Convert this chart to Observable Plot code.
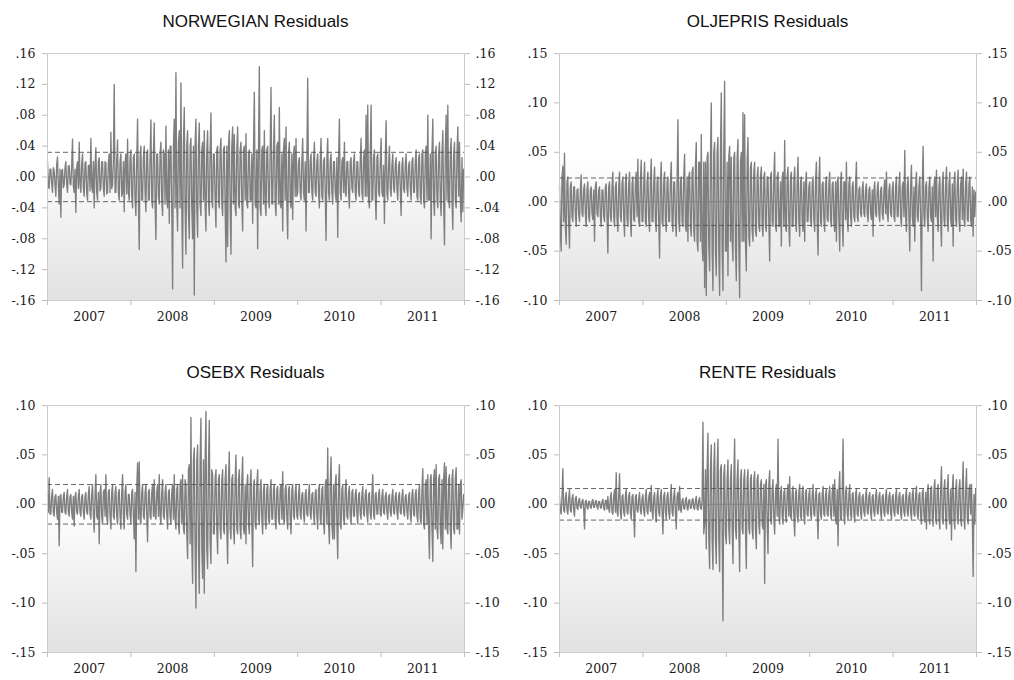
<!DOCTYPE html>
<html><head><meta charset="utf-8">
<script src="https://cdn.jsdelivr.net/npm/d3@7"></script>
<script src="https://cdn.jsdelivr.net/npm/@observablehq/plot@0.6"></script>
<style>
body{margin:0;background:#fff;}
#wrap{position:relative;width:1014px;height:680px;overflow:hidden;background:#fff;}
.title{position:absolute;font-family:"Liberation Sans",Arial,sans-serif;font-size:17px;line-height:17px;color:#111;text-align:center;white-space:nowrap;width:417px;}
.panel{position:absolute;}
</style></head><body><div id="wrap"></div>
<script>
const startYear = 2007;
const pointsPerYear = 100;
const yearTicks = [2007, 2008, 2009, 2010, 2011, 2012];
const yearLabels = ["2007", "2008", "2009", "2010", "2011"];

const norwegian = [
 // 2007
 .02,-.012,-.015,.01,.01,-.008,-.02,.012,.008,-.01,-.025,.015,.026,-.012,-.035,.01,-.052,.008,.01,-.014,
 -.01,.012,.02,-.01,-.02,.014,.015,-.009,-.01,.015,.049,-.012,-.02,.01,-.046,.013,.02,-.015,.045,-.01,
 -.02,.016,.03,-.015,-.025,.018,.02,-.02,-.03,.015,.015,-.018,.05,-.012,-.02,.02,-.04,.016,.038,-.02,
 -.03,.02,.025,-.018,-.015,.02,.02,-.015,-.025,.02,.018,-.022,-.02,.018,.03,-.02,.058,-.015,-.01,.02,
 .12,-.02,-.02,.022,.048,-.02,-.03,.02,.03,-.025,-.02,.02,-.045,.018,.03,-.022,.049,-.02,-.03,.025,
 // 2008
 .035,-.025,-.04,.025,.03,-.03,-.05,.02,.075,-.03,-.094,.025,.04,-.03,-.03,.025,.04,-.02,-.045,.03,
 .035,-.03,-.03,.025,.074,-.03,-.04,.03,.07,-.035,-.081,.03,.03,-.025,-.035,.03,.045,-.03,-.05,.035,
 .03,-.035,.066,-.03,-.04,.035,-.06,.04,.04,-.04,-.145,.04,.075,-.04,.135,-.035,-.07,.045,.06,-.04,
 .122,-.04,-.118,.045,.09,-.04,-.1,.04,.06,-.045,-.08,.04,.05,-.04,-.08,.04,-.153,.045,.075,-.04,
 -.078,.04,.07,-.035,-.05,.035,.045,-.03,.06,-.04,-.07,.035,.06,-.03,-.05,.035,.083,-.03,-.04,.03,
 // 2009
 .03,-.03,-.065,.035,.04,-.03,-.04,.035,.05,-.035,-.05,.035,.04,-.04,-.11,.04,-.09,.04,.06,-.04,
 -.1,.04,.065,-.035,.055,-.04,-.05,.035,.065,-.035,-.04,.035,.045,-.035,-.07,.035,.04,-.03,.056,-.035,
 -.04,.03,.035,-.03,-.03,.03,-.06,.035,.11,-.035,-.04,.035,-.093,.04,.143,-.04,-.05,.035,.04,-.035,
 .06,-.035,-.05,.035,.04,-.03,-.04,.035,.116,-.035,-.035,.035,.08,-.035,-.05,.04,.045,-.035,.09,-.035,
 -.04,.03,-.07,.035,.05,-.03,.065,-.035,-.08,.03,.045,-.03,-.04,.03,-.055,.03,.04,-.025,.05,-.025,
 // 2010
 -.02,.02,.025,-.02,-.03,.02,.05,-.02,-.03,.02,-.07,.025,.128,-.02,-.02,.02,.03,-.02,-.03,.02,
 .045,-.02,-.025,.02,.03,-.02,-.04,.02,.05,-.025,-.03,.02,.025,-.02,-.082,.025,.05,-.02,-.03,.02,
 .03,-.02,-.035,.02,.02,-.02,-.03,.025,-.078,.025,.075,-.02,-.03,.02,.025,-.02,.045,-.02,-.025,.02,
 .02,-.02,-.04,.02,.025,-.015,-.02,.02,.03,-.02,-.03,.02,.02,-.02,-.025,.02,.05,-.02,-.03,.025,
 .035,-.025,.08,-.025,.093,-.03,-.04,.03,.093,-.03,-.03,.025,.035,-.025,-.055,.025,.03,-.02,-.025,.02,
 // 2011
 .05,-.02,-.025,.015,-.06,.02,.073,-.02,-.03,.015,.04,-.015,-.025,.015,.03,-.015,-.02,.015,.025,-.015,
 -.03,.015,.02,-.015,-.05,.015,.025,-.015,-.02,.015,.03,-.015,-.025,.015,.02,-.015,-.03,.02,.025,-.02,
 -.02,.02,.035,-.025,-.03,.025,.03,-.025,-.035,.03,.035,-.03,-.04,.03,.04,-.03,.08,-.03,-.03,.03,
 -.08,.03,.075,-.03,-.05,.03,.04,-.03,-.04,.03,.045,-.03,-.05,.03,.06,-.035,-.088,.035,.08,-.03,
 .093,-.03,-.04,.03,.05,-.03,-.068,.03,.045,-.03,-.04,.03,.065,-.025,.045,-.03,-.058,.025,-.045,.01
];

const oljepris = [
 // 2007
 .016,-.03,-.05,.025,.036,-.02,.049,-.025,-.043,.02,.025,-.02,-.047,.015,.02,-.015,-.02,.015,.015,-.012,
 -.025,.012,.013,-.012,-.02,.012,.027,-.012,-.015,.012,.018,-.012,-.025,.012,.02,-.015,-.02,.012,.015,-.012,
 -.018,.012,-.04,.015,.02,-.012,-.015,.012,.015,-.015,-.025,.012,.012,-.015,-.02,.015,.018,-.015,-.052,.015,
 .02,-.015,-.02,.015,.03,-.015,-.025,.015,.02,-.018,-.03,.015,.03,-.015,-.02,.018,.025,-.015,-.035,.018,
 .028,-.018,-.025,.018,.03,-.018,-.035,.018,.025,-.018,-.02,.018,.03,-.015,.043,-.02,-.025,.02,.042,-.02,
 // 2008
 -.02,.018,.04,-.02,-.025,.02,.03,-.018,-.03,.02,.043,-.02,-.02,.02,.035,-.02,-.03,.02,.025,-.02,
 -.057,.02,.04,-.02,-.025,.02,.03,-.02,-.03,.02,.025,-.02,-.02,.02,.04,-.02,-.03,.02,.02,-.02,
 -.035,.02,.083,-.02,-.03,.02,.025,-.02,-.025,.025,.048,-.025,-.03,.025,-.04,.025,.03,-.025,-.035,.03,
 .035,-.03,-.04,.035,.06,-.04,-.05,.04,.04,-.04,.068,-.045,-.06,.04,-.087,.04,-.095,.045,.05,-.045,
 -.07,.045,.1,-.05,-.09,.05,.06,-.05,-.075,.05,.065,-.05,-.095,.05,.11,-.05,-.09,.055,.122,-.05,
 // 2009
 -.05,.04,-.075,.045,.056,-.04,.045,-.04,-.06,.045,.05,-.045,-.08,.045,.063,-.045,-.097,.04,.05,-.04,
 .09,-.04,.088,-.04,-.07,.04,.065,-.035,-.045,.035,.04,-.03,-.04,.03,.04,-.03,-.035,.025,.035,-.025,
 -.03,.025,.035,-.025,-.035,.025,.03,-.025,-.03,.025,.025,-.02,-.06,.025,.03,-.02,-.025,.025,.05,-.025,
 -.03,.025,.03,-.025,-.025,.02,-.045,.025,.03,-.025,.062,-.025,-.03,.025,.035,-.025,-.045,.025,.03,-.025,
 -.025,.02,.035,-.02,-.03,.02,.045,-.02,-.035,.02,.025,-.02,-.03,.02,-.04,.02,.03,-.02,-.02,.015,
 // 2010
 .02,-.018,-.025,.018,.025,-.018,-.03,.02,.04,-.02,-.054,.02,.045,-.02,-.025,.018,.02,-.018,-.03,.018,
 .025,-.018,-.02,.018,.03,-.018,-.025,.018,.02,-.02,-.03,.02,-.04,.02,.025,-.02,-.05,.02,.03,-.02,
 -.045,.02,.02,-.018,.04,-.018,-.03,.018,.025,-.015,-.025,.015,.02,-.015,-.02,.015,.04,-.015,-.02,.012,
 .015,-.012,-.015,.012,.02,-.012,-.015,.012,.018,-.012,-.02,.012,.015,-.012,-.018,.012,-.035,.012,.02,-.012,
 -.015,.012,.02,-.012,-.02,.012,.015,-.012,-.018,.012,.022,-.012,.03,-.012,-.02,.012,.018,-.012,-.015,.012,
 // 2011
 .02,-.015,-.02,.015,.025,-.015,-.015,.015,.03,-.015,-.025,.015,.02,-.015,.052,-.015,-.03,.015,.025,-.015,
 -.05,.015,.037,-.015,-.025,.015,-.04,.015,.03,-.015,-.02,.015,.025,-.015,-.09,.015,.056,-.015,-.025,.015,
 .02,-.015,-.03,.015,.025,-.015,-.02,.015,-.06,.015,.025,-.015,.032,-.015,-.03,.015,.025,-.018,-.045,.018,
 .03,-.018,-.025,.018,.035,-.018,-.03,.018,.03,-.018,-.025,.018,-.045,.018,.03,-.018,-.025,.018,.032,-.018,
 -.03,.018,.025,-.018,.033,-.018,-.025,.018,.03,-.018,-.02,.018,.025,-.018,-.025,.015,-.035,.012,-.015,.01
];

const osebx = [
 // 2007
 .01,-.008,.027,-.01,-.01,.008,.015,-.008,-.012,.008,.01,-.008,-.015,.008,-.042,.008,.01,-.008,-.008,.008,
 .012,-.008,-.01,.008,.015,-.008,-.012,.008,.01,-.008,-.015,.008,-.022,.008,.012,-.008,-.01,.008,.015,-.008,
 -.012,.008,.01,-.008,-.015,.008,.012,-.008,-.01,.01,.018,-.01,-.015,.01,.02,-.01,-.028,.01,.03,-.012,
 -.015,.012,-.04,.012,.02,-.012,-.02,.012,.015,-.012,.03,-.012,-.02,.012,.015,-.012,-.025,.012,.02,-.012,
 -.015,.012,.018,-.012,-.02,.012,.015,-.012,-.025,.012,.03,-.012,-.025,.012,.02,-.01,-.015,.01,.01,-.01,
 // 2008
 -.02,.012,.015,-.012,-.035,.012,-.068,.015,.042,-.015,.043,-.015,-.02,.012,.02,-.012,-.015,.012,.02,-.012,
 -.038,.012,.015,-.012,-.015,.012,.02,-.012,.025,-.012,-.015,.012,.02,-.012,.03,-.012,-.02,.012,.025,-.012,
 -.015,.012,.02,-.012,-.025,.012,.015,-.012,-.02,.012,.02,-.015,.03,-.015,-.025,.015,.02,-.02,-.03,.02,
 .025,-.02,.03,-.025,-.03,.025,.02,-.03,-.055,.035,.04,-.04,.088,-.04,-.08,.045,.057,-.045,-.105,.045,
 .06,-.045,-.09,.045,.087,-.045,-.075,.045,-.09,.045,.094,-.045,-.065,.04,.085,-.04,-.06,.035,.03,-.03,
 // 2009
 -.03,.025,.035,-.025,-.05,.025,.03,-.025,-.035,.025,.035,-.025,-.03,.025,.04,-.025,-.06,.025,.053,-.025,
 -.035,.025,.03,-.025,-.04,.025,.05,-.025,-.03,.025,.035,-.025,-.035,.025,.048,-.025,-.03,.02,-.04,.02,
 .03,-.02,-.03,.02,.035,-.02,-.063,.02,.025,-.02,-.025,.02,.035,-.015,-.02,.015,.025,-.015,-.03,.015,
 .02,-.015,-.025,.015,.02,-.015,-.02,.015,.025,-.015,-.015,.015,.02,-.015,-.025,.015,.018,-.015,-.02,.015,
 .02,-.015,.033,-.015,-.02,.015,.02,-.015,-.025,.015,.018,-.015,-.03,.015,.02,-.012,-.015,.012,.02,-.012,
 // 2010
 -.015,.01,.02,-.01,-.015,.01,.012,-.01,-.018,.01,.015,-.01,-.012,.01,.02,-.01,-.015,.01,.012,-.01,
 -.02,.012,.015,-.012,-.025,.015,.02,-.015,-.02,.015,.018,-.018,-.03,.02,.025,-.02,.057,-.02,-.04,.02,
 .048,-.02,-.035,.02,-.035,.02,.03,-.02,-.055,.02,.04,-.02,-.025,.015,.02,-.015,-.02,.015,.025,-.012,
 -.015,.012,.018,-.012,-.02,.012,.015,-.012,-.012,.01,.015,-.01,-.02,.01,.012,-.01,-.015,.01,.018,-.01,
 -.012,.01,.015,-.01,-.018,.01,.012,-.01,-.015,.01,.03,-.01,-.015,.01,.012,-.01,-.01,.01,.015,-.01,
 // 2011
 -.012,.008,.015,-.008,-.01,.008,.012,-.008,-.015,.008,.01,-.008,-.012,.008,.015,-.008,-.01,.008,.012,-.008,
 -.015,.008,.012,-.008,-.01,.008,.015,-.008,-.012,.008,.01,-.008,-.015,.008,.012,-.01,-.018,.01,.015,-.01,
 -.012,.01,.015,-.012,-.018,.012,.02,-.015,-.02,.015,.036,-.02,-.025,.02,.025,-.02,.03,-.025,-.055,.025,
 .03,-.025,-.058,.025,.035,-.025,.04,-.025,-.035,.025,.03,-.025,-.04,.025,-.045,.025,.042,-.025,.038,-.025,
 -.03,.025,.03,-.025,-.045,.025,.035,-.025,-.03,.025,.037,-.025,-.025,.02,-.03,.02,.025,-.015,-.005,.01
];

const rente = [
 // 2007
 .008,-.006,-.01,.006,.036,-.006,-.008,.006,.012,-.006,-.01,.006,.015,-.006,-.008,.006,.01,-.006,-.012,.006,
 .008,-.004,-.005,.004,.006,-.003,-.004,.003,.005,-.004,-.025,.003,.004,-.003,-.005,.003,.003,-.003,-.004,.003,
 .005,-.003,-.003,.003,.004,-.003,-.005,.003,.003,-.003,-.004,.003,.005,-.004,-.006,.004,.004,-.005,.008,-.005,
 -.008,.006,.012,-.008,-.01,.008,.015,-.008,.032,-.008,-.012,.008,.031,-.008,-.015,.008,.01,-.008,-.012,.008,
 .015,-.008,-.01,.008,.012,-.008,-.015,.008,.01,-.008,-.033,.008,.01,-.006,-.008,.006,.012,-.006,-.01,.006,
 // 2008
 .01,-.007,-.012,.007,.015,-.007,-.01,.007,.012,-.007,.019,-.007,-.015,.007,.012,-.008,-.018,.008,.015,-.008,
 -.012,.008,.015,-.008,-.03,.008,.012,-.008,-.015,.008,.012,-.008,-.015,.008,.02,-.008,-.012,.008,.015,-.008,
 -.025,.008,.012,-.006,.018,-.005,-.008,.004,.006,-.004,-.005,.004,.007,-.004,-.006,.004,.005,-.004,-.004,.004,
 .006,-.004,-.005,.004,.008,-.004,-.006,.004,.007,-.004,-.005,.004,.083,-.03,-.02,.035,-.045,.035,.072,-.035,
 -.065,.035,.06,-.035,-.066,.035,.062,-.035,-.06,.035,.066,-.035,-.068,.035,.04,-.03,-.118,.03,.04,-.03,
 // 2009
 -.04,.025,.045,-.025,-.04,.025,.04,-.025,-.06,.025,.066,-.025,-.035,.025,.045,-.025,-.068,.025,.035,-.025,
 -.03,.025,.035,-.025,-.065,.025,.035,-.025,-.03,.025,.03,-.025,-.035,.025,.033,-.025,-.045,.025,.03,-.02,
 -.03,.02,.025,-.02,-.025,.02,-.08,.02,.025,-.02,-.05,.02,.034,-.015,-.02,.015,.025,-.015,-.03,.012,
 .02,-.012,.066,-.012,-.02,.012,.018,-.012,-.02,.012,.015,-.012,-.018,.012,.02,-.012,.028,-.012,-.015,.012,
 .018,-.012,-.032,.012,.015,-.012,-.018,.012,.02,-.012,-.015,.012,.018,-.012,-.02,.012,.015,-.01,-.012,.01,
 // 2010
 .015,-.01,-.015,.01,.02,-.01,-.012,.01,.015,-.01,-.035,.01,.012,-.01,-.015,.01,.018,-.01,-.012,.01,
 .015,-.01,-.012,.01,.018,-.01,-.015,.012,.02,-.012,.025,-.015,-.02,.015,-.042,.015,.033,-.015,-.015,.012,
 .066,-.012,-.02,.012,.018,-.01,-.015,.01,.02,-.01,-.015,.01,.012,-.01,-.018,.01,.015,-.01,-.012,.008,
 .012,-.008,-.015,.008,.01,-.008,-.012,.008,.015,-.008,-.01,.008,.012,-.008,-.015,.008,.01,-.008,-.012,.008,
 .015,-.008,-.01,.008,.012,-.008,-.015,.008,.01,-.008,-.012,.008,.015,-.008,-.01,.008,.012,-.008,-.015,.008,
 // 2011
 .01,-.008,-.012,.008,.015,-.008,-.01,.008,.012,-.008,-.015,.008,.01,-.008,-.012,.008,.015,-.008,-.012,.008,
 .012,-.008,-.015,.01,.015,-.01,-.012,.01,.018,-.01,-.015,.01,.012,-.012,-.02,.012,.015,-.012,-.018,.012,
 -.025,.012,.02,-.015,-.02,.015,.018,-.015,-.022,.015,.025,-.015,-.02,.015,.02,-.015,-.025,.015,.038,-.015,
 -.02,.015,.025,-.015,-.025,.015,.03,-.015,-.02,.015,-.036,.015,.03,-.015,-.025,.015,.025,-.015,-.02,.015,
 .025,-.015,-.022,.015,.043,-.015,-.025,.015,.036,-.015,-.02,.015,.02,-.01,.02,-.015,-.073,.01,-.02,.015
];

const titles = ["NORWEGIAN Residuals", "OLJEPRIS Residuals", "OSEBX Residuals", "RENTE Residuals"];
const standardErrors = [0.032, 0.024, 0.02, 0.016];
const yTicksNorwegian = [-0.16, -0.12, -0.08, -0.04, 0, 0.04, 0.08, 0.12, 0.16];
const yTicksOljepris = [-0.10, -0.05, 0, 0.05, 0.10, 0.15];
const yTicksLower = [-0.15, -0.10, -0.05, 0, 0.05, 0.10];

const panels = [
  {title: titles[0], values: norwegian, se: standardErrors[0], ticks: yTicksNorwegian, left: 0,   top: 40,  mL: 47, titleTop: 13},
  {title: titles[1], values: oljepris,  se: standardErrors[1], ticks: yTicksOljepris,  left: 507, top: 40,  mL: 52, titleTop: 13},
  {title: titles[2], values: osebx,     se: standardErrors[2], ticks: yTicksLower,     left: 0,   top: 392, mL: 47, titleTop: 364},
  {title: titles[3], values: rente,     se: standardErrors[3], ticks: yTicksLower,     left: 507, top: 392, mL: 52, titleTop: 364}
];

function fmt(d) {
  const s = Math.abs(d) < 1e-9 ? "0.00" : d.toFixed(2);
  return s.replace(/^(-?)0\./, "$1.");
}

const wrap = document.getElementById("wrap");
const FW = 417, FH = 247, MT = 13;

panels.forEach((p, k) => {
  const data = p.values.map((v, i) => ({t: startYear + i / pointsPerYear, v}));
  const H = k < 2 ? 290 : 288;
  const gid = "bg" + k;
  const svg = Plot.plot({
    width: 507,
    height: H,
    marginLeft: p.mL,
    marginRight: 507 - p.mL - FW,
    marginTop: MT,
    marginBottom: H - MT - FH,
    style: {fontFamily: "'DejaVu Serif', serif", fontSize: "12.5px", color: "#1a1a1a", background: "transparent"},
    x: {domain: [yearTicks[0], yearTicks[yearTicks.length - 1]]},
    y: {domain: [p.ticks[0], p.ticks[p.ticks.length - 1]]},
    marks: [
      Plot.frame({fill: `url(#${gid})`}),
      Plot.ruleY([0], {stroke: "#6a6a6a", strokeWidth: 0.8}),
      Plot.line(data, {x: "t", y: "v", stroke: "#7f7f7f", strokeWidth: 1.35}),
      Plot.ruleY([p.se, -p.se], {stroke: "#555555", strokeWidth: 0.9, strokeDasharray: "5,3"}),
      Plot.frame({stroke: "#cdcdcd", strokeWidth: 1}),
      Plot.axisY({anchor: "left", ticks: p.ticks, tickFormat: fmt, tickSize: 5, tickPadding: 7, stroke: "#bdbdbd", label: null}),
      Plot.axisY({anchor: "right", ticks: p.ticks, tickFormat: fmt, tickSize: 5, tickPadding: 6, stroke: "#bdbdbd", label: null}),
      Plot.axisX({ticks: yearTicks, tickSize: 5, tickFormat: () => "", stroke: "#bdbdbd", label: null}),
      Plot.axisX({ticks: yearLabels.map(y => +y + 0.5), tickSize: 0, tickPadding: 12, tickFormat: d => String(Math.floor(d)), label: null})
    ]
  });
  const defs = d3.select(svg).insert("defs", ":first-child");
  const g = defs.append("linearGradient").attr("id", gid).attr("x1", 0).attr("y1", 0).attr("x2", 0).attr("y2", 1);
  g.append("stop").attr("offset", "0").attr("stop-color", "#ffffff");
  g.append("stop").attr("offset", "0.4").attr("stop-color", "#ffffff");
  g.append("stop").attr("offset", "1").attr("stop-color", "#e2e2e2");

  const holder = document.createElement("div");
  holder.className = "panel";
  holder.style.left = p.left + "px";
  holder.style.top = p.top + "px";
  holder.appendChild(svg);
  wrap.appendChild(holder);

  const t = document.createElement("div");
  t.className = "title";
  t.textContent = p.title;
  t.style.left = (p.left + p.mL) + "px";
  t.style.top = p.titleTop + "px";
  wrap.appendChild(t);
});
</script></body></html>
